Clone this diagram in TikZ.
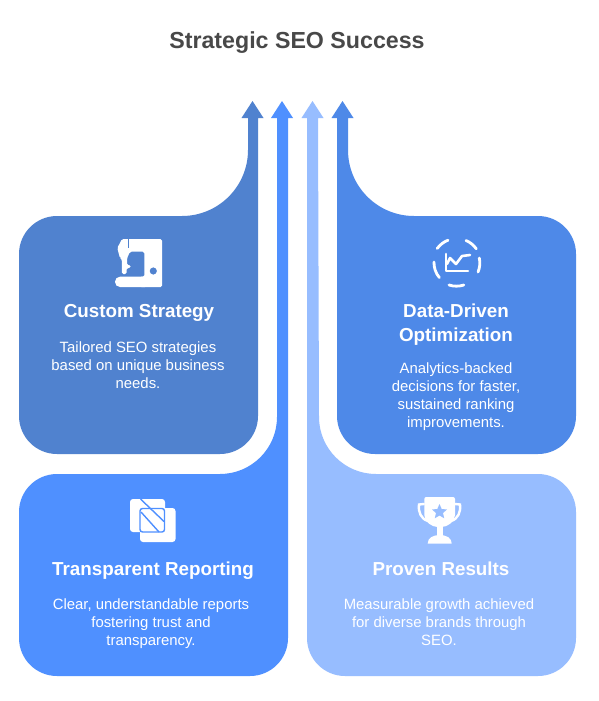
\documentclass[tikz,border=0pt]{standalone}
\usepackage{fontspec}
\setmainfont{Liberation Sans}
\usetikzlibrary{positioning}
\definecolor{ccustom}{RGB}{80,130,207}
\definecolor{cdata}{RGB}{78,137,232}
\definecolor{creport}{RGB}{79,144,255}
\definecolor{cproven}{RGB}{151,189,255}
\definecolor{ctitle}{RGB}{72,72,72}
\tikzset{
  ttl/.style={font=\fontsize{23.2}{27}\selectfont\bfseries, text=ctitle},
  cardttl/.style={font=\fontsize{18.8}{24}\selectfont\bfseries, text=white, align=center, inner sep=0pt},
  cardtxt/.style={font=\fontsize{14.9}{18}\selectfont, text=white, align=center, inner sep=0pt},
  ico/.style={fill=white, draw=none},
  icoline/.style={white, line width=2.8pt, line cap=round},
}
\begin{document}
\begin{tikzpicture}[x=1pt, y=-1pt]
  \useasboundingbox (0,0) rectangle (599,701);
  \fill[white] (0,0) rectangle (599,701);
  \node[ttl] (title) at (297,43) {Strategic SEO Success};
  % cards with their arrows
  \fill[ccustom] (19,254) arc (180:270:38) -- (182,216) arc (90:0:66) -- (248,118) -- (241.5,118)
     -- (252.5,101) -- (263.5,118) -- (258,118) -- (258,416) arc (0:90:38) -- (57,454) arc (90:180:38) -- cycle;
  \fill[cdata] (576,254) arc (0:-90:38) -- (414,216) arc (90:180:66) -- (348,118) -- (353.5,118)
     -- (342.5,101) -- (331.5,118) -- (337,118) -- (337,416) arc (180:90:38) -- (538,454) arc (90:0:38) -- cycle;
  \fill[creport] (19,512) arc (180:270:38) -- (220,474) arc (90:0:57) -- (277,118) -- (271,118)
     -- (282,101) -- (293,118) -- (288,118) -- (288,638) arc (0:90:38) -- (57,676) arc (90:180:38) -- cycle;
  \fill[cproven] (576,512) arc (0:-90:38) -- (376,474) arc (90:180:57) -- (318,118) -- (323.5,118)
     -- (312.5,101) -- (301.5,118) -- (307,118) -- (307,638) arc (180:90:38) -- (538,676) arc (90:0:38) -- cycle;
  % sewing machine
  \fill[ico, rounded corners=1.5pt, even odd rule] (122,239) -- (162,239) -- (162,287) -- (140,287) -- (140,276.7)
     -- (144.3,276.7) -- (144.3,251.7) -- (130,251.7) -- (127,258.3) -- (127,265) -- (130.7,265) -- (130.7,268) -- (126.5,268)
     -- (126.5,274) -- (122,274) -- (121.7,258.3) -- (120,258.3) -- (117.3,248) -- cycle
     (153.3,271) circle[radius=3.7];
  \fill[ico, rounded corners=5pt] (115,276.7) rectangle (150,287);
  \draw[ccustom, line width=.8pt] (128.3,239) -- (128.3,248);
  % chart in a broken ring
  \draw[icoline] (437.2,248.5) arc (216:249:24);
  \draw[icoline] (466,240.5) arc (-67:-35:24);
  \draw[icoline] (479.3,258) arc (-12:22:24);
  \draw[icoline] (449,285) arc (108:72:24);
  \draw[icoline] (434,262) arc (182:140:23);
  \draw[white, line width=2.6pt, line cap=round, line join=round] (446,254) -- (446,271) -- (468,271);
  \draw[white, line width=2.6pt, line cap=round, line join=round] (447,264) -- (450,258) -- (456,264) -- (462,256) -- (470,255);
  % overlapping squares
  \fill[ico, rounded corners=3pt] (140,508) rectangle (175.5,542);
  \fill[ico, rounded corners=3pt] (130,499) rectangle (165,532);
  \draw[creport, line width=1.4pt, rounded corners=2.5pt] (140,508.5) -- (164.5,508.5) -- (164.5,532) -- (140,532) -- cycle;
  \draw[creport, line width=1.4pt] (140.5,499) -- (164,521.5);
  \draw[creport, line width=1.4pt] (141,512) -- (159,532);
  % trophy
  \fill[ico, rounded corners=2pt] (424.3,497) -- (455,497) -- (455,513) .. controls (455,522) and (447,527) .. (439.7,527)
     .. controls (432,527) and (424.3,522) .. (424.3,513) -- cycle;
  \fill[ico] (436.7,526) rectangle (442.7,537);
  \fill[ico] (427.7,543.5) .. controls (427.7,538) and (433,535) .. (439.7,535) .. controls (446.5,535) and (451.7,538) .. (451.7,543.5) -- cycle;
  \draw[white, line width=2.4pt, line cap=round] (424,504) -- (419,504.5) .. controls (418,512) and (421,519) .. (428,521);
  \draw[white, line width=2.4pt, line cap=round] (455,504) -- (460,504.5) .. controls (461,512) and (458,519) .. (451,521);
  \fill[cproven] (439.5,504) -- (441.7,509) -- (447,509.5) -- (443,513) -- (444.2,518.3) -- (439.5,515.5)
     -- (434.8,518.3) -- (436,513) -- (432,509.5) -- (437.3,509) -- cycle;
  % texts
  \node[cardttl] (customttl) at (139,313) {Custom Strategy};
  \node[cardtxt] (customtxt) at (138,365) {Tailored SEO strategies\\based on unique business\\needs.};
  \node[cardttl] (datattl) at (456,325) {Data-Driven\\Optimization};
  \node[cardtxt] (datatxt) at (456,397) {Analytics-backed\\decisions for faster,\\sustained ranking\\improvements.};
  \node[cardttl] (reportttl) at (153,571) {Transparent Reporting};
  \node[cardtxt] (reporttxt) at (151,624) {Clear, understandable reports\\fostering trust and\\transparency.};
  \node[cardttl] (proventtl) at (441,569) {Proven Results};
  \node[cardtxt] (proventxt) at (439,622.5) {Measurable growth achieved\\for diverse brands through\\SEO.};
\end{tikzpicture}
\end{document}
